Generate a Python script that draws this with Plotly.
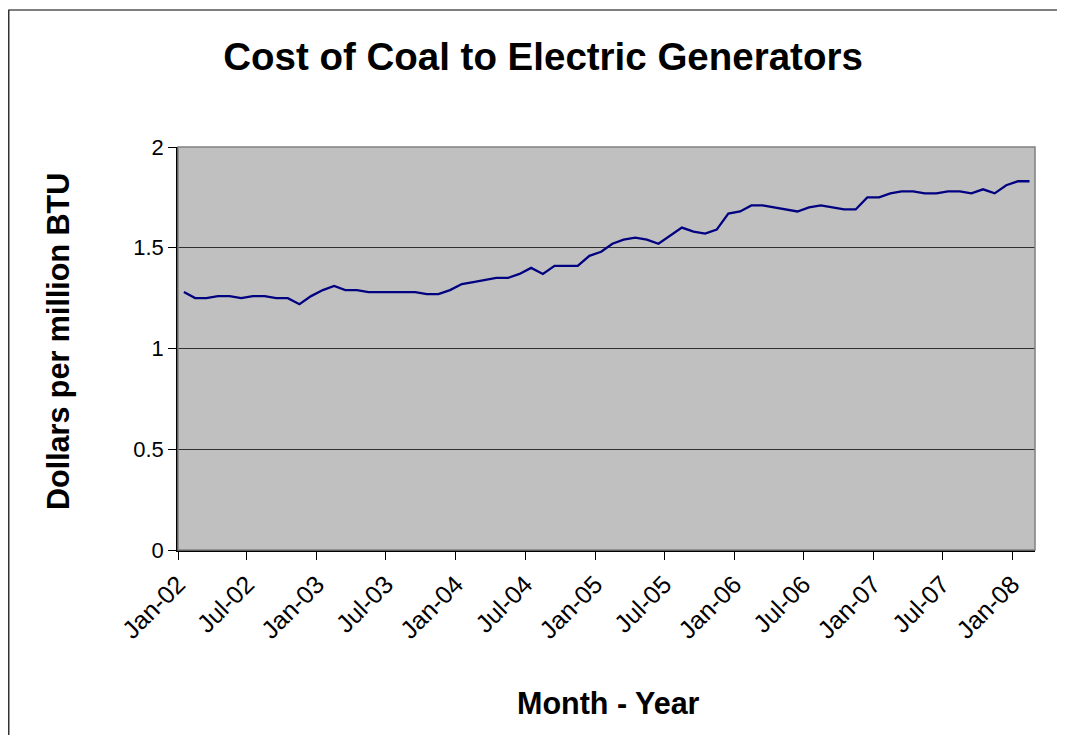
import pandas as pd
import plotly.graph_objects as go

# Monthly data Jan-2002 .. Feb-2008
start_month = "2002-01-01"
n_months = 74
months = pd.date_range(start_month, periods=n_months, freq="MS").strftime("%Y-%m-%d").tolist()

cost_2002 = [1.28, 1.25, 1.25, 1.26, 1.26, 1.25, 1.26, 1.26, 1.25, 1.25, 1.22, 1.26]
cost_2003 = [1.29, 1.31, 1.29, 1.29, 1.28, 1.28, 1.28, 1.28, 1.28, 1.27, 1.27, 1.29]
cost_2004 = [1.32, 1.33, 1.34, 1.35, 1.35, 1.37, 1.40, 1.37, 1.41, 1.41, 1.41, 1.46]
cost_2005 = [1.48, 1.52, 1.54, 1.55, 1.54, 1.52, 1.56, 1.60, 1.58, 1.57, 1.59, 1.67]
cost_2006 = [1.68, 1.71, 1.71, 1.70, 1.69, 1.68, 1.70, 1.71, 1.70, 1.69, 1.69, 1.75]
cost_2007 = [1.75, 1.77, 1.78, 1.78, 1.77, 1.77, 1.78, 1.78, 1.77, 1.79, 1.77, 1.81]
cost_2008 = [1.83, 1.83]
cost = cost_2002 + cost_2003 + cost_2004 + cost_2005 + cost_2006 + cost_2007 + cost_2008

tick_dates = pd.date_range("2002-01-01", "2008-01-01", freq="6MS").strftime("%Y-%m-%d").tolist()
y_ticks = [0, 0.5, 1, 1.5, 2]
y_tick_text = ["0", "0.5", "1", "1.5", "2"]

FONT = "Liberation Sans, Arial, sans-serif"
W, H = 1065, 735
OFF = 8  # page body margin
L, R, T, B = 178 - OFF, 1035 - OFF, 147 - OFF, 550 - OFF

def px_x(px):
    return (px - OFF - L) / (R - L)

def px_y(py):
    return (B - (py - OFF)) / (B - T)

fig = go.Figure()
fig.add_trace(go.Scatter(
    x=months, y=cost, mode="lines",
    xperiod="M1", xperiodalignment="middle",
    line=dict(color="#000080", width=2.3),
    showlegend=False, hoverinfo="x+y",
))

fig.update_layout(
    width=W, height=H,
    margin=dict(l=L, r=W - R, t=T, b=H - B),
    paper_bgcolor="white",
    plot_bgcolor="#C0C0C0",
    font=dict(family=FONT, color="black", size=24),
    title=dict(text="<b>Cost of Coal to Electric Generators</b>",
               x=(543 - OFF) / W, xanchor="center", xref="container",
               y=1 - (57 - OFF) / H, yanchor="middle", yref="container",
               font=dict(family=FONT, size=38.5, color="black")),
    xaxis=dict(
        type="date",
        range=["2002-01-01", "2008-03-01"],
        tickmode="array", tickvals=tick_dates, tickformat="%b-%y",
        tickangle=-45, ticks="outside", ticklen=8, tickcolor="black", tickwidth=1,
        showgrid=False, zeroline=False,
        showline=True, linecolor="black", linewidth=1.5,
        tickfont=dict(family=FONT, size=25, color="black"),
    ),
    yaxis=dict(
        range=[0, 2], tickmode="array", tickvals=y_ticks, ticktext=y_tick_text,
        ticks="outside", ticklen=8, tickcolor="black", tickwidth=1,
        showgrid=True, gridcolor="#303030", gridwidth=1,
        zeroline=False, showline=True, linecolor="black", linewidth=1.5,
        tickfont=dict(family=FONT, size=22, color="black"),
    ),
    shapes=[
        dict(type="rect", xref="paper", yref="paper", x0=0, x1=1, y0=0, y1=1,
             line=dict(color="#808080", width=1.5), fillcolor="rgba(0,0,0,0)", layer="above"),
        dict(type="rect", xref="paper", yref="paper",
             x0=px_x(8.8), x1=px_x(1061), y0=px_y(760), y1=px_y(10),
             line=dict(color="black", width=1.2), fillcolor="rgba(0,0,0,0)", layer="below"),
    ],
    annotations=[
        dict(text="<b>Dollars per million BTU</b>", xref="paper", yref="paper",
             x=px_x(58), y=px_y(342), textangle=-90, showarrow=False,
             xanchor="center", yanchor="middle",
             font=dict(family=FONT, size=30.5, color="black")),
        dict(text="<b>Month - Year</b>", xref="paper", yref="paper",
             x=px_x(608), y=px_y(703), showarrow=False,
             xanchor="center", yanchor="middle",
             font=dict(family=FONT, size=30.5, color="black")),
    ],
)

fig.write_html("out.html")
